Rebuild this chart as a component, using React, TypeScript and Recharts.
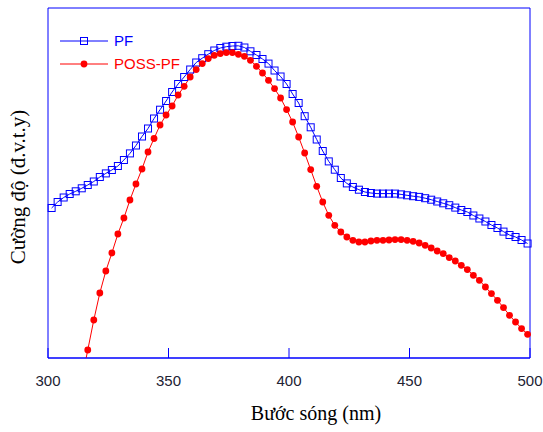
import React from "react";
import {
  LineChart,
  Line,
  XAxis,
  YAxis,
  ReferenceArea,
  Legend,
} from "recharts";

// wavelength grid (nm)
const wavelengths = [
  301.5, 304, 306.5, 309, 311.5, 314, 316.5, 319, 321.5, 324,
  326.5, 329, 331.5, 334, 336.5, 339, 341.5, 344, 346.5, 349,
  351.5, 354, 356.5, 359, 361.5, 364, 366.5, 369, 371.5, 374,
  376.5, 379, 381.5, 384, 386.5, 389, 391.5, 394, 396.5, 399,
  401.5, 404, 406.5, 409, 411.5, 414, 416.5, 419, 421.5, 424,
  426.5, 429, 431.5, 434, 436.5, 439, 441.5, 444, 446.5, 449,
  451.5, 454, 456.5, 459, 461.5, 464, 466.5, 469, 471.5, 474,
  476.5, 479, 481.5, 484, 486.5, 489, 491.5, 494, 496.5, 499,
];

// PF intensity (arbitrary units)
const pfValues = [
  150, 156, 160.5, 164, 166.7, 169.7, 173, 176.5, 181, 184.6,
  188, 192, 198, 204.6, 212.5, 221.5, 229.5, 239.5, 248.3, 257,
  266, 274, 281, 288.5, 295.5, 299.8, 303.8, 307.5, 310, 311.3,
  312, 312.2, 310.5, 306.7, 303, 299, 294.4, 287.5, 281.5, 274,
  264, 255, 241.8, 230.7, 218.5, 207, 196.6, 188.3, 180, 174.6,
  171, 168.3, 166, 165, 164.4, 164.4, 164.4, 164.4, 163.6, 162.7,
  161.8, 161.1, 159.8, 158.3, 156.5, 154.7, 152.8, 150.4, 148, 146,
  142.5, 139.5, 136.5, 133, 130, 126.4, 123, 121, 118, 114.5,
];

// POSS-PF intensity (arbitrary units); the curve runs in from below the axis
const possValues: (number | null)[] = [
  null, null, null, null, null, -22, 8, 38, 65, 87,
  105, 124, 140, 158, 174, 189, 206, 219.5, 233, 243,
  252, 263, 271.7, 281, 288.4, 294.4, 299.4, 302.7, 304.4, 305.4,
  305.4, 303.7, 301.7, 297.7, 291.7, 285, 277.7, 269.4, 260, 248.4,
  236, 221, 205, 188.4, 171.7, 156, 142.7, 132.7, 126, 121,
  117.7, 116, 116, 117, 117.7, 117.7, 118, 118.4, 118.4, 117.7,
  116.7, 115, 112.7, 110, 107, 104.4, 100.4, 97, 92.7, 88.4,
  82.7, 77.7, 71, 64.4, 57.7, 50.4, 42.7, 36, 29.4, 23.7,
];

const xTicks = [300, 350, 400, 450, 500];

const BLUE = "#0000ff";
const RED = "#ff0000";

const rows = wavelengths.map((wl, i) => ({
  wl,
  pf: pfValues[i],
  poss: possValues[i],
}));

const SquareDot = (props: any) => {
  const { cx, cy } = props;
  if (cx == null || cy == null) return <g />;
  return (
    <rect x={cx - 3.5} y={cy - 3.5} width={7} height={7} fill="none" stroke={BLUE} strokeWidth={1} />
  );
};

const CircleDot = (props: any) => {
  const { cx, cy } = props;
  if (cx == null || cy == null) return <g />;
  return <circle cx={cx} cy={cy} r={3.4} fill={RED} stroke="none" />;
};

const WlTick = (props: any) => {
  const { x, y, payload } = props;
  return (
    <g>
      <line x1={x} y1={y} x2={x} y2={y - 10} stroke={BLUE} strokeWidth={1} />
      <text
        x={x}
        y={y + 28}
        textAnchor="middle"
        fontFamily="'Liberation Sans', Arial, sans-serif"
        fontSize={15}
        fill="#222233"
      >
        {payload.value}
      </text>
    </g>
  );
};

const legendItems = [
  { name: "PF", color: BLUE, square: true },
  { name: "POSS-PF", color: RED, square: false },
];

const renderLegend = () => (
  <div style={{ fontFamily: "'Liberation Sans', Arial, sans-serif", fontSize: 15 }}>
    {legendItems.map((it) => (
      <div key={it.name} style={{ display: "flex", alignItems: "center", height: 23 }}>
        <svg width={54} height={14} style={{ display: "block" }}>
          <line x1={0} y1={7} x2={48} y2={7} stroke={it.color} strokeWidth={1} />
          {it.square ? (
            <rect x={20.5} y={3.5} width={7} height={7} fill="none" stroke={it.color} />
          ) : (
            <circle cx={24} cy={7} r={3.4} fill={it.color} />
          )}
        </svg>
        <span style={{ color: it.color, lineHeight: "23px" }}>{it.name}</span>
      </div>
    ))}
  </div>
);

export default function App() {
  return (
    <div style={{ position: "absolute", left: 0, top: 0, width: 543, height: 432, background: "#fff" }}>
      <LineChart width={543} height={432} data={rows} margin={{ top: 8, right: 13, bottom: 0, left: 48 }}>
        <XAxis
          dataKey="wl"
          type="number"
          domain={[300, 500]}
          ticks={xTicks}
          height={74}
          axisLine={{ stroke: BLUE, strokeWidth: 1 }}
          tickLine={false}
          tickSize={0}
          tickMargin={0}
          tick={<WlTick />}
          interval={0}
        />
        <YAxis hide domain={[0, 350]} allowDataOverflow />
        <ReferenceArea x1={300} x2={500} y1={0} y2={350} fill="none" stroke={BLUE} strokeWidth={1} fillOpacity={0} />
        <Legend
          content={renderLegend}
          layout="vertical"
          verticalAlign="middle"
          align="center"
          wrapperStyle={{ left: 60, top: 29, width: "auto" }}
        />
        <Line
          dataKey="pf"
          type="linear"
          stroke={BLUE}
          strokeWidth={1}
          dot={SquareDot}
          activeDot={false}
          isAnimationActive={false}
        />
        <Line
          dataKey="poss"
          type="linear"
          stroke={RED}
          strokeWidth={1}
          dot={CircleDot}
          activeDot={false}
          isAnimationActive={false}
        />
      </LineChart>
      <div
        style={{
          position: "absolute",
          left: 316,
          top: 413,
          transform: "translate(-50%, -50%)",
          fontFamily: "'Liberation Serif', 'Times New Roman', serif",
          fontSize: 20,
          whiteSpace: "nowrap",
          color: "#000",
        }}
      >
        Bước sóng (nm)
      </div>
      <div
        style={{
          position: "absolute",
          left: 18,
          top: 187,
          transform: "translate(-50%, -50%) rotate(-90deg)",
          fontFamily: "'Liberation Serif', 'Times New Roman', serif",
          fontSize: 21,
          whiteSpace: "nowrap",
          color: "#000",
        }}
      >
        Cường độ (đ.v.t.y)
      </div>
    </div>
  );
}
